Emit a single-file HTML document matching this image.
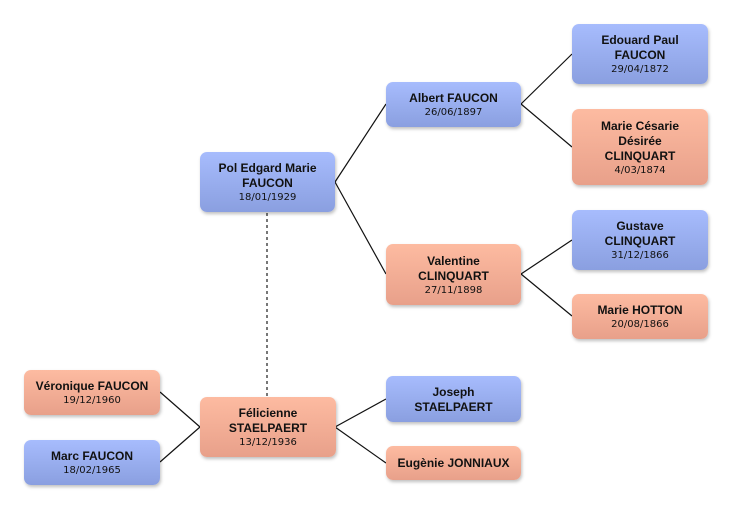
<!DOCTYPE html>
<html><head><meta charset="utf-8"><style>
body{margin:0;width:732px;height:509px;background:#fff;position:relative;overflow:hidden;font-family:"Liberation Sans",sans-serif}
.b{position:absolute;border-radius:7px;box-sizing:border-box;display:flex;flex-direction:column;justify-content:center;align-items:center;text-align:center;font-size:12px;font-weight:bold;color:#111;line-height:15px;box-shadow:1px 2px 3px rgba(0,0,0,0.25);padding-top:1px}
.m{background:linear-gradient(#a7bcfd,#8a9fe0)}
.f{background:linear-gradient(#fdbba1,#e8a08a)}
.d{font-weight:normal;font-size:10px;line-height:13px;font-family:"DejaVu Sans",sans-serif}
svg{position:absolute;left:0;top:0}
</style></head><body>
<svg width="732" height="509">
<g stroke="#111" stroke-width="1.2" fill="none">
<path d="M335 182L386 104M335 182L386 274M521 104L572 54M521 104L572 147M521 274L572 240M521 274L572 316M335 427L386 399M335 427L386 463M160 392L200 427M160 462L200 427"/>
</g>
<line x1="267" y1="213" x2="267" y2="396" stroke="#777" stroke-width="2" stroke-dasharray="3,3"/>
</svg>
<div class="b m" style="left:200px;top:152px;width:135px;height:60px">Pol Edgard Marie<br>FAUCON<div class="d">18/01/1929</div></div>
<div class="b m" style="left:386px;top:82px;width:135px;height:45px">Albert FAUCON<div class="d">26/06/1897</div></div>
<div class="b f" style="left:386px;top:244px;width:135px;height:61px">Valentine<br>CLINQUART<div class="d">27/11/1898</div></div>
<div class="b m" style="left:572px;top:24px;width:136px;height:60px">Edouard Paul<br>FAUCON<div class="d">29/04/1872</div></div>
<div class="b f" style="left:572px;top:109px;width:136px;height:76px">Marie Césarie<br>Désirée<br>CLINQUART<div class="d">4/03/1874</div></div>
<div class="b m" style="left:572px;top:210px;width:136px;height:60px">Gustave<br>CLINQUART<div class="d">31/12/1866</div></div>
<div class="b f" style="left:572px;top:294px;width:136px;height:45px">Marie HOTTON<div class="d">20/08/1866</div></div>
<div class="b f" style="left:24px;top:370px;width:136px;height:45px">Véronique FAUCON<div class="d">19/12/1960</div></div>
<div class="b m" style="left:24px;top:440px;width:136px;height:45px">Marc FAUCON<div class="d">18/02/1965</div></div>
<div class="b f" style="left:200px;top:397px;width:136px;height:60px">Félicienne<br>STAELPAERT<div class="d">13/12/1936</div></div>
<div class="b m" style="left:386px;top:376px;width:135px;height:46px">Joseph<br>STAELPAERT</div>
<div class="b f" style="left:386px;top:446px;width:135px;height:34px">Eugènie JONNIAUX</div>
</body></html>
